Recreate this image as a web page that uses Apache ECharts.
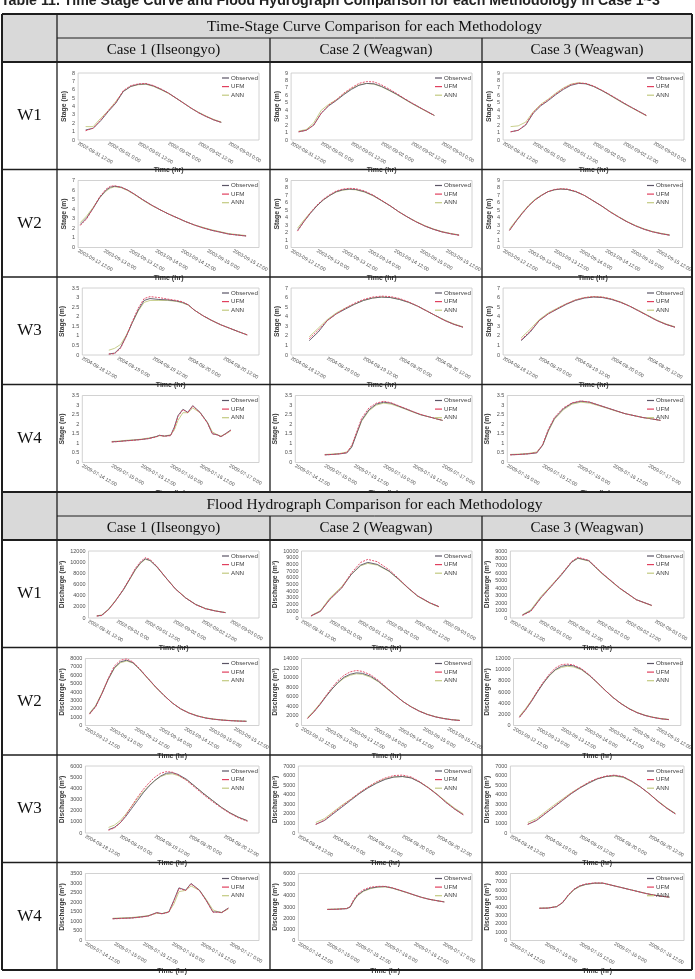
<!DOCTYPE html>
<html><head><meta charset="utf-8">
<script src="https://cdn.jsdelivr.net/npm/echarts@6/dist/echarts.min.js"></script>
<style>html,body{margin:0;padding:0;background:#fff}#c{width:695px;height:979px}</style>
</head><body><div id="c"></div><script>
// ---------- tick labels ----------
const LAB_W1 = ['2002-08-31 12:00','2002-09-01 0:00','2002-09-01 12:00','2002-09-02 0:00','2002-09-02 12:00','2002-09-03 0:00'];
const LAB_W2 = ['2003-09-12 12:00','2003-09-13 0:00','2003-09-13 12:00','2003-09-14 0:00','2003-09-14 12:00','2003-09-15 0:00','2003-09-15 12:00'];
const LAB_W3 = ['2004-08-18 12:00','2004-08-19 0:00','2004-08-19 12:00','2004-08-20 0:00','2004-08-20 12:00'];
const LAB_W4 = ['2009-07-14 12:00','2009-07-15 0:00','2009-07-15 12:00','2009-07-16 0:00','2009-07-16 12:00','2009-07-17 0:00'];
const LAB_W4B = ['2009-07-15 0:00','2009-07-15 12:00','2009-07-16 0:00','2009-07-16 12:00','2009-07-17 0:00'];
const LAB_W4C = ['2009-07-14 12:00','2009-07-15 0:00','2009-07-15 12:00','2009-07-16 0:00','2009-07-16 12:00'];

// ---------- Stage (m) data: hours from first tick ----------
const H_S11 = [3,6,9,12,15,18,21,24,27,30,33,36,39,42,45,48,51,54,57];
const O_S11 = [1.2,1.4,2.3,3.4,4.4,5.8,6.4,6.65,6.7,6.45,6.05,5.6,5.0,4.4,3.8,3.25,2.8,2.4,2.1];
const U_S11 = [1.1,1.4,2.4,3.5,4.5,5.9,6.5,6.7,6.75,6.5,6.1,5.6,5.0,4.4,3.8,3.25,2.8,2.4,2.1];
const A_S11 = [1.6,1.6,2.6,3.5,4.6,5.8,6.4,6.6,6.65,6.4,6.0,5.55,5.0,4.4,3.8,3.3,2.85,2.45,2.15];

const H_S12 = [3,6,9,12,15,18,21,24,27,30,33,36,39,42,45,48,51,54,57];
const O_S12 = [1.1,1.3,2.0,3.6,4.6,5.3,6.1,6.8,7.35,7.6,7.55,7.2,6.7,6.15,5.55,4.95,4.4,3.85,3.3];
const U_S12 = [1.1,1.3,2.0,3.6,4.7,5.4,6.3,7.0,7.6,7.85,7.8,7.4,6.85,6.25,5.6,5.0,4.4,3.85,3.3];
const A_S12 = [1.2,1.4,2.3,4.0,4.8,5.4,6.2,6.9,7.4,7.6,7.5,7.15,6.65,6.1,5.5,4.9,4.35,3.8,3.3];

const H_S13 = [3,6,9,12,15,18,21,24,27,30,33,36,39,42,45,48,51,54,57];
const O_S13 = [1.1,1.3,2.0,3.6,4.6,5.3,6.1,6.8,7.35,7.6,7.55,7.2,6.7,6.15,5.55,4.95,4.4,3.85,3.3];
const U_S13 = [1.1,1.3,2.1,3.7,4.7,5.4,6.2,6.9,7.45,7.65,7.6,7.25,6.75,6.2,5.6,5.0,4.4,3.85,3.3];
const A_S13 = [1.8,1.9,2.4,3.8,4.8,5.5,6.3,7.0,7.5,7.7,7.55,7.2,6.7,6.1,5.5,4.9,4.35,3.8,3.25];

const H_S21 = [1,4,7,10,13,15,17,20,23,26,30,34,38,42,46,50,54,58,62,66,70,74,78];
const O_S21 = [2.4,3.1,4.1,5.2,6.0,6.3,6.4,6.3,6.0,5.6,5.0,4.45,3.95,3.5,3.1,2.7,2.35,2.05,1.8,1.6,1.4,1.3,1.2];
const U_S21 = [2.3,3.0,4.1,5.3,6.1,6.4,6.45,6.3,6.0,5.6,5.0,4.45,3.95,3.5,3.1,2.7,2.35,2.05,1.8,1.6,1.4,1.3,1.2];
const A_S21 = [2.6,3.3,4.2,5.2,5.9,6.2,6.35,6.25,5.95,5.55,4.95,4.4,3.95,3.5,3.1,2.7,2.35,2.1,1.85,1.65,1.45,1.35,1.25];

const H_S22 = [3,6,9,12,15,18,21,24,27,30,34,38,42,46,50,54,58,62,66,70,74,78];
const O_S22 = [2.3,3.5,4.6,5.6,6.4,7.0,7.5,7.75,7.85,7.8,7.5,7.0,6.3,5.6,4.8,4.1,3.45,2.9,2.45,2.1,1.85,1.65];
const U_S22 = [2.2,3.5,4.7,5.7,6.5,7.1,7.6,7.85,7.95,7.9,7.6,7.05,6.35,5.6,4.8,4.1,3.45,2.9,2.45,2.1,1.85,1.65];
const A_S22 = [2.6,3.7,4.7,5.6,6.4,7.0,7.45,7.7,7.8,7.75,7.45,6.95,6.3,5.6,4.8,4.1,3.5,2.95,2.5,2.15,1.9,1.7];

const H_S23 = [3,6,9,12,15,18,21,24,27,30,34,38,42,46,50,54,58,62,66,70,74,78];
const O_S23 = [2.3,3.5,4.6,5.6,6.4,7.0,7.5,7.75,7.85,7.8,7.5,7.0,6.3,5.6,4.8,4.1,3.45,2.9,2.45,2.1,1.85,1.65];
const U_S23 = [2.3,3.5,4.6,5.6,6.4,7.0,7.5,7.8,7.9,7.85,7.55,7.0,6.3,5.6,4.8,4.1,3.45,2.9,2.45,2.1,1.85,1.65];
const A_S23 = [2.5,3.6,4.7,5.7,6.5,7.05,7.5,7.75,7.85,7.8,7.5,7.0,6.3,5.6,4.85,4.15,3.5,2.95,2.5,2.15,1.9,1.7];

const H_S31 = [9,11,13,15,17,19,21,23,26,29,32,34,36,38,41,44,47,50,53,56];
const O_S31 = [0.05,0.1,0.4,1.0,1.7,2.35,2.85,2.95,2.9,2.88,2.82,2.75,2.62,2.35,2.05,1.8,1.58,1.4,1.22,1.05];
const U_S31 = [0.05,0.07,0.35,1.0,1.75,2.45,2.95,3.05,3.0,2.92,2.85,2.78,2.62,2.35,2.05,1.8,1.58,1.4,1.22,1.05];
const A_S31 = [0.25,0.35,0.55,1.05,1.7,2.3,2.75,2.85,2.85,2.85,2.8,2.72,2.6,2.35,2.05,1.8,1.58,1.4,1.22,1.05];

const H_S32 = [6,9,12,15,18,21,24,27,30,33,36,39,42,45,48,51,54,57];
const O_S32 = [1.5,2.4,3.6,4.3,4.8,5.3,5.7,5.95,6.05,6.0,5.8,5.5,5.1,4.6,4.1,3.6,3.2,2.9];
const U_S32 = [1.7,2.6,3.6,4.3,4.9,5.4,5.8,6.05,6.15,6.1,5.9,5.55,5.1,4.6,4.1,3.6,3.2,2.9];
const A_S32 = [1.9,2.8,3.7,4.4,4.9,5.3,5.7,5.95,6.05,6.0,5.8,5.5,5.1,4.6,4.1,3.65,3.25,2.95];

const H_S33 = [6,9,12,15,18,21,24,27,30,33,36,39,42,45,48,51,54,57];
const O_S33 = [1.5,2.4,3.6,4.3,4.8,5.3,5.7,5.95,6.05,6.0,5.8,5.5,5.1,4.6,4.1,3.6,3.2,2.9];
const U_S33 = [1.6,2.5,3.6,4.3,4.85,5.35,5.75,6.0,6.1,6.05,5.85,5.5,5.1,4.6,4.1,3.6,3.2,2.9];
const A_S33 = [1.8,2.7,3.7,4.4,4.9,5.35,5.75,6.0,6.1,6.05,5.85,5.55,5.1,4.65,4.15,3.65,3.25,2.95];

const H_S41 = [12,15,18,21,24,27,30,31.5,33.5,36,37.5,39,41,43,45,48,51,53,55,56.5,58.5,60.5];
const O_S41 = [1.08,1.1,1.14,1.17,1.2,1.25,1.35,1.42,1.38,1.42,1.85,2.45,2.78,2.62,2.97,2.62,2.08,1.5,1.45,1.35,1.52,1.7];
const U_S41 = [1.07,1.1,1.13,1.16,1.2,1.25,1.33,1.42,1.37,1.4,1.8,2.4,2.76,2.6,2.95,2.6,2.05,1.5,1.44,1.35,1.5,1.68];
const A_S41 = [1.1,1.12,1.16,1.18,1.22,1.28,1.35,1.4,1.38,1.45,1.7,2.2,2.6,2.6,2.85,2.6,2.1,1.6,1.45,1.38,1.5,1.65];

const H_S42 = [12,15,18,21,23,25,27,30,33,36,39,42,45,48,51,54,57,60];
const O_S42 = [0.4,0.42,0.45,0.5,0.8,1.5,2.2,2.75,3.05,3.15,3.1,2.95,2.8,2.65,2.5,2.4,2.3,2.2];
const U_S42 = [0.4,0.42,0.45,0.52,0.9,1.6,2.3,2.85,3.1,3.2,3.12,2.97,2.82,2.66,2.52,2.4,2.3,2.2];
const A_S42 = [0.42,0.44,0.47,0.55,0.85,1.5,2.15,2.7,3.0,3.1,3.05,2.92,2.78,2.63,2.5,2.4,2.3,2.2];

const H_S43 = [1,4,7,10,12,14,16,19,22,25,28,31,34,37,40,43,46,49,52];
const O_S43 = [0.4,0.42,0.45,0.5,0.9,1.7,2.3,2.8,3.1,3.2,3.15,3.0,2.85,2.7,2.55,2.45,2.35,2.28,2.2];
const U_S43 = [0.4,0.42,0.45,0.52,0.95,1.75,2.35,2.85,3.12,3.22,3.15,3.0,2.85,2.7,2.55,2.45,2.35,2.28,2.2];
const A_S43 = [0.42,0.44,0.47,0.55,0.9,1.65,2.25,2.75,3.05,3.15,3.1,2.97,2.83,2.68,2.55,2.45,2.35,2.28,2.2];

// ---------- Discharge data ----------
const H_D11 = [3.5,5.6,8.5,11.3,14.8,17.7,19.8,22,24,26,29,32.5,36.7,41,45.2,49.4,53.7,57.9];
const O_D11 = [360,480,1550,3000,5100,7200,8700,9900,10600,10300,9100,7300,5200,3600,2440,1670,1250,950];
const U_D11 = [350,450,1500,3000,5200,7300,8900,10100,10800,10500,9200,7300,5200,3600,2400,1650,1250,950];
const A_D11 = [400,550,1600,3100,5100,7100,8600,9800,10500,10300,9100,7300,5250,3650,2450,1700,1280,980];

const H_D12 = [4,8,12,17,21,25,28,32,37,41,45,49,54,58];
const O_D12 = [300,1000,2800,4500,6500,7900,8300,8000,7000,5800,4500,3300,2300,1700];
const U_D12 = [300,1000,2800,4500,6700,8300,8750,8400,7200,5900,4500,3300,2300,1700];
const A_D12 = [350,1100,3000,4700,6500,7800,8150,7900,6950,5750,4450,3250,2250,1650];

const H_D13 = [5,8.5,12.7,17,21.2,25.4,28,32.5,38,45.2,52.2,58.6];
const O_D13 = [400,970,2730,4270,5800,7500,8050,7700,6000,4050,2470,1700];
const U_D13 = [350,900,2700,4300,5900,7600,8150,7750,6050,4050,2450,1700];
const A_D13 = [450,1100,2900,4400,5900,7500,8000,7650,5950,4000,2450,1650];

const H_D21 = [2,5,8,11,14,17,20,23,26,30,34,38,42,46,50,54,58,62,66,70,74,78];
const O_D21 = [1400,2300,3800,5500,6900,7600,7800,7500,6800,5700,4600,3600,2700,2000,1500,1150,900,750,650,580,530,500];
const U_D21 = [1350,2250,3800,5600,7100,7800,7950,7600,6850,5700,4600,3600,2700,2000,1500,1150,900,750,650,580,530,500];
const A_D21 = [1500,2400,3900,5500,6800,7500,7700,7450,6750,5650,4550,3600,2700,2000,1520,1180,930,780,670,600,550,520];

const H_D22 = [3,6,9,12,15,18,21,24,27,30,34,38,42,46,50,54,58,62,66,70,74,78];
const O_D22 = [1500,2800,4300,6000,7600,9000,10100,10700,11000,10900,10300,9200,7800,6400,5000,3900,3000,2300,1800,1450,1200,1050];
const U_D22 = [1450,2800,4400,6200,7900,9400,10500,11200,11500,11300,10600,9400,7900,6400,5000,3900,3000,2300,1800,1450,1200,1050];
const A_D22 = [1700,3000,4500,6100,7600,8900,9900,10500,10800,10700,10100,9100,7700,6350,5000,3950,3050,2350,1850,1500,1250,1100];

const H_D23 = [3,6,9,12,15,18,21,24,27,30,34,38,42,46,50,54,58,62,66,70,74,78];
const O_D23 = [1500,2800,4300,6000,7600,9000,10000,10600,10800,10700,10100,9000,7700,6300,5000,3900,3000,2300,1800,1450,1200,1050];
const U_D23 = [1450,2800,4400,6200,7800,9200,10300,10900,11000,10850,10200,9100,7700,6300,5000,3900,3000,2300,1800,1450,1200,1050];
const A_D23 = [1700,3000,4500,6100,7600,8900,9900,10400,10600,10500,10000,8950,7650,6300,5000,3950,3050,2350,1850,1500,1250,1100];

const H_D31 = [8,10,12,14,16,18,20,22,24,26,28,30,32,35,38,41,44,47,50,53,56];
const O_D31 = [300,500,900,1500,2200,2900,3600,4200,4700,5100,5350,5400,5250,4800,4150,3500,2900,2300,1800,1400,1100];
const U_D31 = [250,450,900,1600,2400,3200,3900,4500,5000,5350,5500,5450,5200,4700,4050,3400,2800,2250,1750,1350,1050];
const A_D31 = [500,700,1100,1700,2400,3100,3700,4250,4700,5050,5250,5300,5150,4750,4150,3500,2900,2300,1800,1400,1100];

const H_D32 = [6,9,12,15,18,21,24,27,30,33,36,39,42,45,48,51,54,57];
const O_D32 = [900,1300,2000,2700,3400,4100,4700,5200,5600,5850,5900,5750,5300,4700,4000,3200,2500,1900];
const U_D32 = [900,1350,2100,2800,3500,4200,4800,5350,5750,6000,6050,5850,5350,4700,4000,3200,2500,1900];
const A_D32 = [1100,1500,2200,2900,3500,4150,4750,5250,5650,5850,5900,5750,5300,4750,4050,3300,2600,2000];

const H_D33 = [6,9,12,15,18,21,24,27,30,33,36,39,42,45,48,51,54,57];
const O_D33 = [900,1300,2000,2700,3400,4100,4700,5200,5650,5900,6000,5850,5400,4800,4100,3300,2600,2000];
const U_D33 = [900,1350,2050,2750,3450,4150,4750,5300,5700,5950,6050,5900,5400,4800,4100,3300,2600,2000];
const A_D33 = [1100,1500,2200,2900,3550,4200,4750,5250,5650,5900,5950,5800,5350,4800,4100,3350,2650,2050];

const H_D41 = [11.3,15,19,23,26,29.6,31.8,34.6,36.7,38.8,41.6,43.8,47.3,50.1,52.9,55,56.5,59.3];
const O_D41 = [1140,1160,1175,1230,1280,1460,1400,1490,2100,2750,2630,2980,2630,2100,1490,1490,1460,1700];
const U_D41 = [1130,1150,1170,1220,1270,1450,1390,1480,2050,2720,2610,2960,2610,2080,1480,1480,1450,1680];
const A_D41 = [1160,1180,1200,1250,1300,1420,1410,1500,1900,2550,2620,2850,2620,2150,1600,1500,1470,1650];

const H_D42 = [12,16,20,21.5,23,24.5,27,30,33,36,39,42,45,48,51,54,57,60.5];
const O_D42 = [2780,2800,2850,3000,3600,4050,4450,4700,4800,4830,4700,4500,4300,4080,3870,3700,3580,3450];
const U_D42 = [2780,2800,2860,3050,3700,4150,4550,4780,4850,4850,4720,4520,4300,4080,3870,3700,3580,3450];
const A_D42 = [2800,2820,2870,3000,3550,4000,4400,4650,4780,4800,4680,4480,4280,4070,3870,3710,3590,3470];

const H_D43 = [10,13,16,18,20,22,24,26,29,32,35,38,41,44,47,50,53,55];
const O_D43 = [3850,3870,4040,4500,5400,6100,6500,6700,6850,6850,6600,6350,6100,5850,5600,5400,5250,5170];
const U_D43 = [3850,3870,4050,4550,5450,6150,6550,6750,6880,6860,6600,6350,6100,5850,5600,5400,5250,5170];
const A_D43 = [3870,3890,4060,4500,5350,6050,6450,6680,6830,6840,6600,6360,6110,5860,5610,5410,5260,5180];

// ---------- texts ----------
const TITLE = 'Table 11. Time Stage Curve and Flood Hydrograph Comparison for each Methodology in Case 1~3';
const SECTION_TITLES = ['Time-Stage Curve Comparison for each Methodology','Flood Hydrograph Comparison for each Methodology'];
const CASES = ['Case 1 (Ilseongyo)','Case 2 (Weagwan)','Case 3 (Weagwan)'];
const ROWS = ['W1','W2','W3','W4'];
const SERIES_NAMES = ['Observed','UFM','ANN'];
const Y_NAMES = ['Stage (m)','Discharge (m³)'];

// ---------- chart list ----------
const CHARTS = [
 {s:0,r:0,c:0,ym:8,st:1,xm:72,lab:LAB_W1,h:H_S11,o:O_S11,u:U_S11,a:A_S11},
 {s:0,r:0,c:1,ym:9,st:1,xm:72,lab:LAB_W1,h:H_S12,o:O_S12,u:U_S12,a:A_S12},
 {s:0,r:0,c:2,ym:9,st:1,xm:72,lab:LAB_W1,h:H_S13,o:O_S13,u:U_S13,a:A_S13},
 {s:0,r:1,c:0,ym:7,st:1,xm:84,lab:LAB_W2,h:H_S21,o:O_S21,u:U_S21,a:A_S21},
 {s:0,r:1,c:1,ym:9,st:1,xm:84,lab:LAB_W2,h:H_S22,o:O_S22,u:U_S22,a:A_S22},
 {s:0,r:1,c:2,ym:9,st:1,xm:84,lab:LAB_W2,h:H_S23,o:O_S23,u:U_S23,a:A_S23},
 {s:0,r:2,c:0,ym:3.5,st:0.5,xm:60,lab:LAB_W3,h:H_S31,o:O_S31,u:U_S31,a:A_S31},
 {s:0,r:2,c:1,ym:7,st:1,xm:60,lab:LAB_W3,h:H_S32,o:O_S32,u:U_S32,a:A_S32},
 {s:0,r:2,c:2,ym:7,st:1,xm:60,lab:LAB_W3,h:H_S33,o:O_S33,u:U_S33,a:A_S33},
 {s:0,r:3,c:0,ym:3.5,st:0.5,xm:72,lab:LAB_W4,h:H_S41,o:O_S41,u:U_S41,a:A_S41},
 {s:0,r:3,c:1,ym:3.5,st:0.5,xm:72,lab:LAB_W4,h:H_S42,o:O_S42,u:U_S42,a:A_S42},
 {s:0,r:3,c:2,ym:3.5,st:0.5,xm:60,lab:LAB_W4B,h:H_S43,o:O_S43,u:U_S43,a:A_S43},
 {s:1,r:0,c:0,ym:12000,st:2000,xm:72,lab:LAB_W1,h:H_D11,o:O_D11,u:U_D11,a:A_D11},
 {s:1,r:0,c:1,ym:10000,st:1000,xm:72,lab:LAB_W1,h:H_D12,o:O_D12,u:U_D12,a:A_D12},
 {s:1,r:0,c:2,ym:9000,st:1000,xm:72,lab:LAB_W1,h:H_D13,o:O_D13,u:U_D13,a:A_D13},
 {s:1,r:1,c:0,ym:8000,st:1000,xm:84,lab:LAB_W2,h:H_D21,o:O_D21,u:U_D21,a:A_D21},
 {s:1,r:1,c:1,ym:14000,st:2000,xm:84,lab:LAB_W2,h:H_D22,o:O_D22,u:U_D22,a:A_D22},
 {s:1,r:1,c:2,ym:12000,st:2000,xm:84,lab:LAB_W2,h:H_D23,o:O_D23,u:U_D23,a:A_D23},
 {s:1,r:2,c:0,ym:6000,st:1000,xm:60,lab:LAB_W3,h:H_D31,o:O_D31,u:U_D31,a:A_D31},
 {s:1,r:2,c:1,ym:7000,st:1000,xm:60,lab:LAB_W3,h:H_D32,o:O_D32,u:U_D32,a:A_D32},
 {s:1,r:2,c:2,ym:7000,st:1000,xm:60,lab:LAB_W3,h:H_D33,o:O_D33,u:U_D33,a:A_D33},
 {s:1,r:3,c:0,ym:3500,st:500,xm:72,lab:LAB_W4,h:H_D41,o:O_D41,u:U_D41,a:A_D41},
 {s:1,r:3,c:1,ym:6000,st:1000,xm:72,lab:LAB_W4,h:H_D42,o:O_D42,u:U_D42,a:A_D42},
 {s:1,r:3,c:2,ym:8000,st:1000,xm:60,lab:LAB_W4C,h:H_D43,o:O_D43,u:U_D43,a:A_D43}
];

// ---------- layout ----------
const XB = [2,57,270,482,692];
const SEC_TOP = [14,492];
const HDR = 24, ROWH = 107.5;
const COL_OBS = '#5b5566', COL_UFM = '#e0405e', COL_ANN = '#c2ca80';
const LINE = '#1e1e1e', GRAY = '#d9d9d9';
const SANS = "'Liberation Sans', Arial, sans-serif";
const SERIF = "'Liberation Serif', 'DejaVu Serif', serif";

const grid=[], xAxis=[], yAxis=[], series=[], legend=[], graphic=[];

function hline(x1,x2,y,w){graphic.push({type:'line',silent:true,z:10,shape:{x1:x1,y1:y,x2:x2,y2:y},style:{stroke:LINE,lineWidth:w}});}
function vline(x,y1,y2,w){graphic.push({type:'line',silent:true,z:10,shape:{x1:x,y1:y1,x2:x,y2:y2},style:{stroke:LINE,lineWidth:w}});}
function txt(t,x,y,font){graphic.push({type:'text',silent:true,z:11,style:{text:t,x:x,y:y,font:font,fill:'#111',align:'center',verticalAlign:'middle',textAlign:'center',textVerticalAlign:'middle'}});}

graphic.push({type:'text',silent:true,z:11,style:{text:TITLE,x:1,y:8,font:'bold 14.2px '+SANS,fill:'#222',align:'left',verticalAlign:'bottom',textAlign:'left',textVerticalAlign:'bottom'}});

SEC_TOP.forEach((T,s)=>{
  graphic.push({type:'rect',silent:true,z:1,shape:{x:XB[0],y:T,width:XB[4]-XB[0],height:2*HDR},style:{fill:GRAY}});
  txt(SECTION_TITLES[s],(XB[1]+XB[4])/2,T+HDR/2+0.5,'15.5px '+SERIF);
  CASES.forEach((c,i)=>txt(c,(XB[i+1]+XB[i+2])/2,T+HDR*1.5+0.5,'15px '+SERIF));
  ROWS.forEach((r,i)=>txt(r,(XB[0]+XB[1])/2,T+2*HDR+ROWH*(i+0.5),'17px '+SERIF));
  const B = T+2*HDR+4*ROWH;
  hline(XB[0],XB[4],T,2);
  hline(XB[1],XB[4],T+HDR,1);
  hline(XB[0],XB[4],T+2*HDR,2);
  for(let i=1;i<4;i++) hline(XB[0],XB[4],T+2*HDR+ROWH*i,1.3);
  hline(XB[0],XB[4],B,2);
  vline(XB[0],T,B,2); vline(XB[4],T,B,2); vline(XB[1],T,B,1.3);
  vline(XB[2],T+HDR,B,1.3); vline(XB[3],T+HDR,B,1.3);
});

CHARTS.forEach((d,i)=>{
  const cx = XB[d.c+1];
  const ry = SEC_TOP[d.s]+2*HDR+ROWH*d.r;
  // widest y tick label, in characters
  let nch = 1;
  for (let v=0; v<=d.ym+1e-9; v+=d.st) nch = Math.max(nch, String(Math.round(v*10)/10).length);
  const lw = nch*3.1;
  const gl = 12 + lw + 4 + (nch===1?2:0);
  grid.push({left:cx+gl, top:ry+11, width:202-gl, height:67, show:true, borderColor:'#c6c6c6', borderWidth:0.8, backgroundColor:'transparent'});
  xAxis.push({gridIndex:i, type:'value', min:0, max:d.xm, interval:12,
    axisLine:{show:false}, axisTick:{show:false}, splitLine:{show:false},
    axisLabel:{rotate:-30, fontSize:5, color:'#505050', margin:3, fontFamily:SANS,
      formatter:(v)=>{const k=Math.round(v/12); return d.lab[k]!==undefined?d.lab[k]:'';}},
    name:'Time (hr)', nameLocation:'middle', nameGap:27, nameMoveOverlap:false,
    nameTextStyle:{fontSize:7, fontWeight:'bold', color:'#3a3a3a', fontFamily:SANS}});
  yAxis.push({gridIndex:i, type:'value', min:0, max:d.ym, interval:d.st,
    axisLine:{show:false}, axisTick:{show:false}, splitLine:{show:false},
    axisLabel:{fontSize:5.5, color:'#505050', margin:3, fontFamily:SANS, formatter:(v)=>String(v)},
    name:Y_NAMES[d.s], nameLocation:'middle', nameGap:lw+7.5, nameRotate:90, nameMoveOverlap:false,
    nameTextStyle:{fontSize:6.8, fontWeight:'bold', color:'#3a3a3a', fontFamily:SANS}});
  const mk = (arr)=>d.h.map((x,k)=>[x,arr[k]]);
  series.push({name:SERIES_NAMES[2], type:'line', xAxisIndex:i, yAxisIndex:i, data:mk(d.a), symbol:'none', silent:true,
    lineStyle:{color:COL_ANN, width:0.9}, itemStyle:{color:COL_ANN}});
  series.push({name:SERIES_NAMES[0], type:'line', xAxisIndex:i, yAxisIndex:i, data:mk(d.o), symbol:'none', silent:true,
    lineStyle:{color:COL_OBS, width:0.9}, itemStyle:{color:COL_OBS}});
  series.push({name:SERIES_NAMES[1], type:'line', xAxisIndex:i, yAxisIndex:i, data:mk(d.u), symbol:'none', silent:true,
    lineStyle:{color:COL_UFM, width:0.9, type:[2,1.2]}, itemStyle:{color:COL_UFM}});
  legend.push({left:cx+165, top:ry+13, orient:'vertical', itemWidth:7, itemHeight:1.2, itemGap:2.6, selectedMode:false,
    icon:'rect', padding:0, textStyle:{fontSize:6.2, color:'#404040', fontFamily:SANS, padding:[0,0,0,-3]},
    data:SERIES_NAMES.slice()});
});

const chart = echarts.init(document.getElementById('c'), null, {renderer:'canvas'});
chart.setOption({animation:false, backgroundColor:'#fff', textStyle:{fontFamily:SANS},
  grid, xAxis, yAxis, series, legend, graphic});
</script></body></html>
